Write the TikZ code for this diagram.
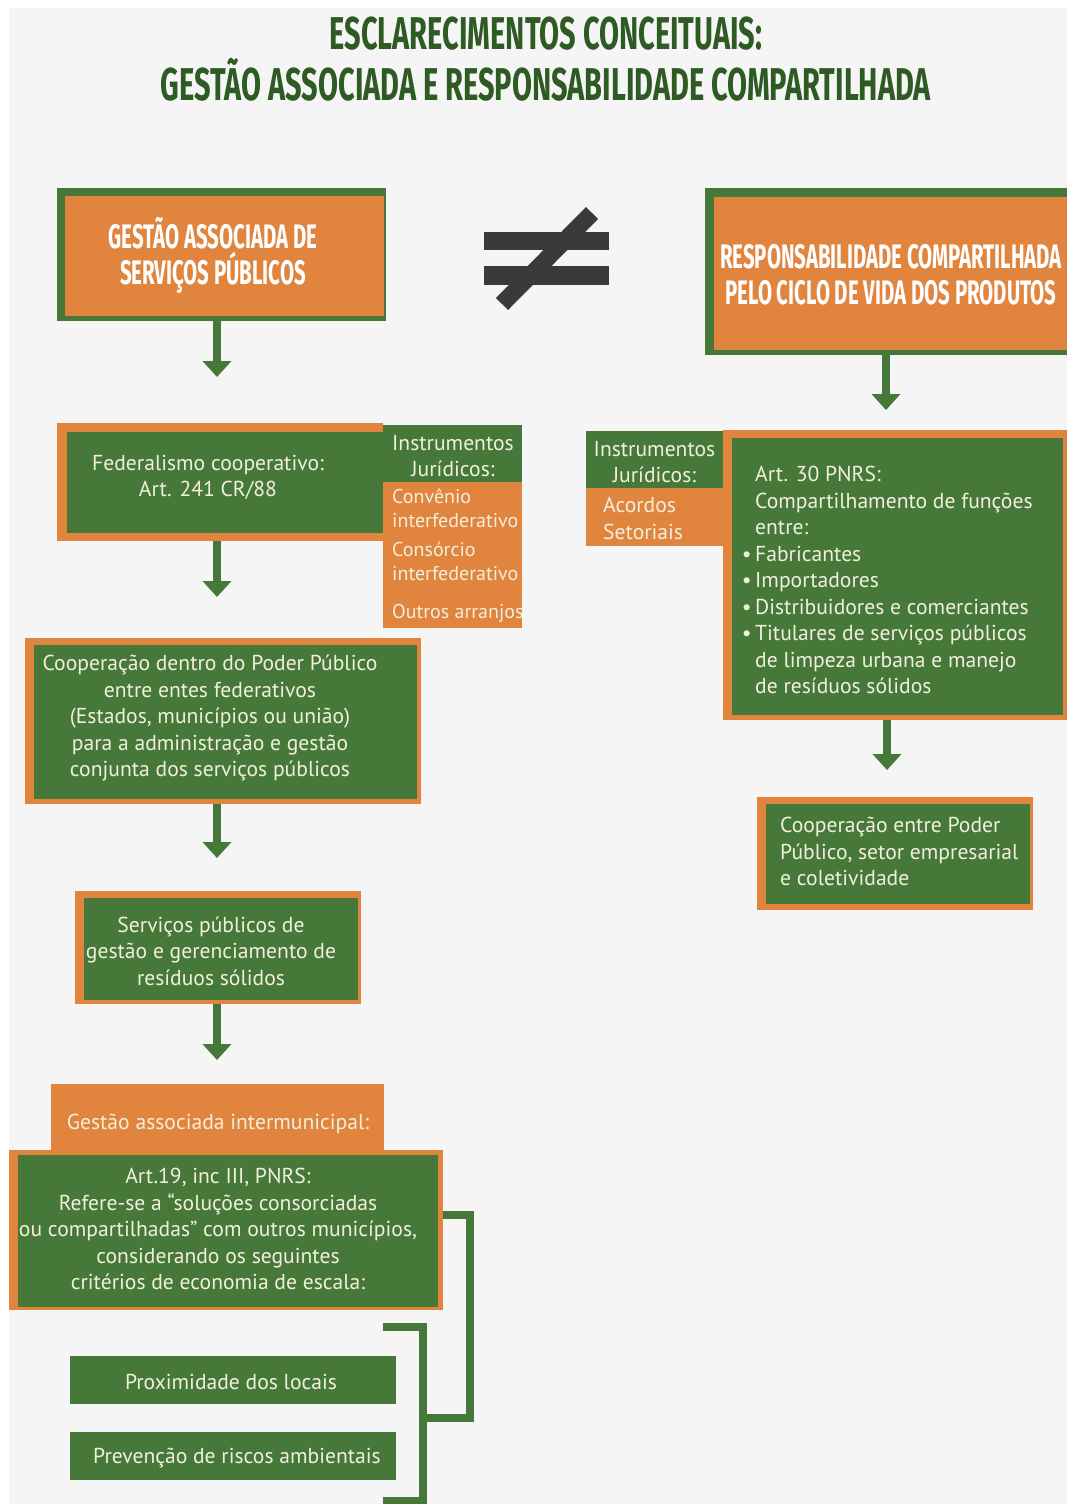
\documentclass[tikz,border=0pt]{standalone}
\usepackage{fontspec}
\setmainfont{PT Sans}
\newfontfamily\headfont{Fira Sans}[FakeStretch=0.60]
\newfontfamily\titlefont{Fira Sans}[FakeStretch=0.63]
\usetikzlibrary{arrows.meta}
\definecolor{paper}{HTML}{F5F5F5}
\definecolor{leaf}{HTML}{46783A}
\definecolor{clay}{HTML}{E1843E}
\definecolor{pine}{HTML}{2E5A24}
\definecolor{slate}{HTML}{3A3A3A}
\definecolor{cream}{HTML}{F2EFDC}
\tikzset{
  gpanel/.style={fill=leaf, anchor=north west, inner sep=0pt, outer sep=0pt},
  opanel/.style={fill=clay, anchor=north west, inner sep=0pt, outer sep=0pt},
  bodytxt/.style={text=cream, inner sep=0pt, yshift=-2.5pt, font=\fontsize{21.6}{26.5}\selectfont},
  tighttxt/.style={font=\fontsize{20}{24}\selectfont},
  headtxt/.style={text=white, inner sep=0pt, align=center, font=\headfont\bfseries\fontsize{34}{36}\selectfont},
  titletxt/.style={text=pine, inner sep=0pt, font=\titlefont\bfseries\fontsize{46}{52}\selectfont},
  flowarr/.style={draw=leaf, line width=8pt, -{Triangle[width=28pt,length=16pt]}},
  bracket/.style={draw=leaf, line width=8pt, line cap=butt, line join=miter},
  neqbar/.style={fill=slate},
}

\begin{document}
\begin{tikzpicture}[x=1pt, y=-1pt]
\useasboundingbox (0,0) rectangle (1067,1504);
\fill[white] (0,0) rectangle (1067,1504);
\fill[paper] (9,8) rectangle (1067,1504);

% titulo
\node[titletxt, anchor=base] (tit1) at (546,50) {ESCLARECIMENTOS CONCEITUAIS:};
\node[titletxt, anchor=base] (tit2) at (546,100) {GESTÃO ASSOCIADA E RESPONSABILIDADE COMPARTILHADA};

% cabecalhos
\node[gpanel, minimum width=329pt, minimum height=133pt] (gestf) at (57,188) {};
\node[opanel, minimum width=319pt, minimum height=120pt] (gest) at (65,196) {};
\node[headtxt] (gesttxt) at (213,255) {GESTÃO ASSOCIADA DE\\SERVIÇOS PÚBLICOS};

\node[gpanel, minimum width=362pt, minimum height=167pt] (respf) at (705,188) {};
\node[opanel, minimum width=353pt, minimum height=153pt] (resp) at (714,197) {};
\node[headtxt] (resptxt) at (891,275) {RESPONSABILIDADE COMPARTILHADA\\PELO CICLO DE VIDA DOS PRODUTOS};

% sinal de diferente
\fill[neqbar] (484,232) rectangle (609,250);
\fill[neqbar] (484,266) rectangle (609,285);
\draw[slate, line width=17pt] (502,304) -- (592,213);

% coluna esquerda
\node[opanel, minimum width=326pt, minimum height=118pt] (fedf) at (57,423) {};
\node[gpanel, minimum width=316pt, minimum height=101pt] (fed) at (67,432) {};
\node[bodytxt, align=center] (fedtxt) at (208,475) {Federalismo cooperativo:\\Art. 241 CR/88};

\node[gpanel, minimum width=139pt, minimum height=57pt] (instl) at (383,425) {};
\node[opanel, minimum width=139pt, minimum height=146pt] (instlb) at (383,482) {};
\node[bodytxt, align=center] (instltxt) at (453,453.5) {Instrumentos\\Jurídicos:};
\node[bodytxt, tighttxt, align=left, anchor=west] (conv) at (392,506) {Convênio\\interfederativo};
\node[bodytxt, tighttxt, align=left, anchor=west] (cons) at (392,559) {Consórcio\\interfederativo};
\node[bodytxt, tighttxt, anchor=west] (outros) at (392,611) {Outros arranjos};

\node[opanel, minimum width=396pt, minimum height=166pt] (coopf) at (25,638) {};
\node[gpanel, minimum width=383pt, minimum height=154pt] (coop) at (34,645) {};
\node[bodytxt, align=center] (cooptxt) at (210,716) {Cooperação dentro do Poder Público\\entre entes federativos\\(Estados, municípios ou união)\\para a administração e gestão\\conjunta dos serviços públicos};

\node[opanel, minimum width=286pt, minimum height=113pt] (servf) at (75,891) {};
\node[gpanel, minimum width=274pt, minimum height=102pt] (serv) at (84,898) {};
\node[bodytxt, align=center] (servtxt) at (211,948.5) {Serviços públicos de\\gestão e gerenciamento de\\resíduos sólidos};

\node[opanel, minimum width=333pt, minimum height=66pt] (inter) at (51,1084) {};
\node[bodytxt] (intertxt) at (218,1121) {Gestão associada intermunicipal:};

\node[opanel, minimum width=434pt, minimum height=160pt] (art19f) at (9,1150) {};
\node[gpanel, minimum width=420pt, minimum height=152pt] (art19) at (18,1155) {};
\node[bodytxt, align=center] (art19txt) at (218,1226.5) {Art.19, inc III, PNRS:\\Refere-se a “soluções consorciadas\\ou compartilhadas” com outros municípios,\\considerando os seguintes\\critérios de economia de escala:};

\node[gpanel, minimum width=326pt, minimum height=48pt] (prox) at (70,1356) {};
\node[bodytxt] (proxtxt) at (231,1379) {Proximidade dos locais};
\node[gpanel, minimum width=326pt, minimum height=48pt] (prev) at (70,1432) {};
\node[bodytxt] (prevtxt) at (237,1456) {Prevenção de riscos ambientais};

% coluna direita
\node[opanel, minimum width=344pt, minimum height=290pt] (art30f) at (723,430) {};
\node[gpanel, minimum width=331pt, minimum height=277pt] (art30) at (732,438) {};
\node[bodytxt, align=left, anchor=west] (art30txt) at (755,577.5) {Art. 30 PNRS:\\Compartilhamento de funções\\entre:\\\llap{\textbullet\,}Fabricantes\\\llap{\textbullet\,}Importadores\\\llap{\textbullet\,}Distribuidores e comerciantes\\\llap{\textbullet\,}Titulares de serviços públicos\\de limpeza urbana e manejo\\de resíduos sólidos};

\node[gpanel, minimum width=137pt, minimum height=57pt] (instr) at (586,431) {};
\node[opanel, minimum width=137pt, minimum height=58pt] (instrb) at (586,488) {};
\node[bodytxt, align=center] (instrtxt) at (654.5,459.5) {Instrumentos\\Jurídicos:};
\node[bodytxt, align=left, anchor=west] (acord) at (603,516) {Acordos\\Setoriais};

\node[opanel, minimum width=276pt, minimum height=113pt] (entref) at (757,797) {};
\node[gpanel, minimum width=264pt, minimum height=100pt] (entre) at (766,804) {};
\node[bodytxt, align=left, anchor=west] (entretxt) at (780,849) {Cooperação entre Poder\\Público, setor empresarial\\e coletividade};

% setas
\draw[flowarr, shorten >=46pt] ([xshift=-4.5]gestf.south) -- ([xshift=-4.5]gestf.south |- fedf.north);
\draw[flowarr, shorten >=41pt] ([xshift=-3]fedf.south) -- ([xshift=-3]fedf.south |- coopf.north);
\draw[flowarr, shorten >=33pt] ([xshift=-6]coopf.south) -- ([xshift=-6]coopf.south |- servf.north);
\draw[flowarr, shorten >=24pt] ([xshift=-1]servf.south) -- ([xshift=-1]servf.south |- inter.north);
\draw[flowarr, shorten >=20pt] (respf.south) -- (respf.south |- art30f.north);
\draw[flowarr, shorten >=27pt] ([xshift=-8]art30f.south) -- ([xshift=-8]art30f.south |- entref.north);

% chaves
\coordinate (brkA) at (470,1215);
\coordinate (brkB) at (427,1418);
\coordinate (brkC) at (423,1327);
\coordinate (brkD) at (383,1501);
\coordinate (brkE) at (383,1327);
\draw[bracket] (art19f.east |- brkA) -- (brkA) |- (brkB);
\draw[bracket] (brkE) -- (brkC) |- (brkD);
\end{tikzpicture}
\end{document}
